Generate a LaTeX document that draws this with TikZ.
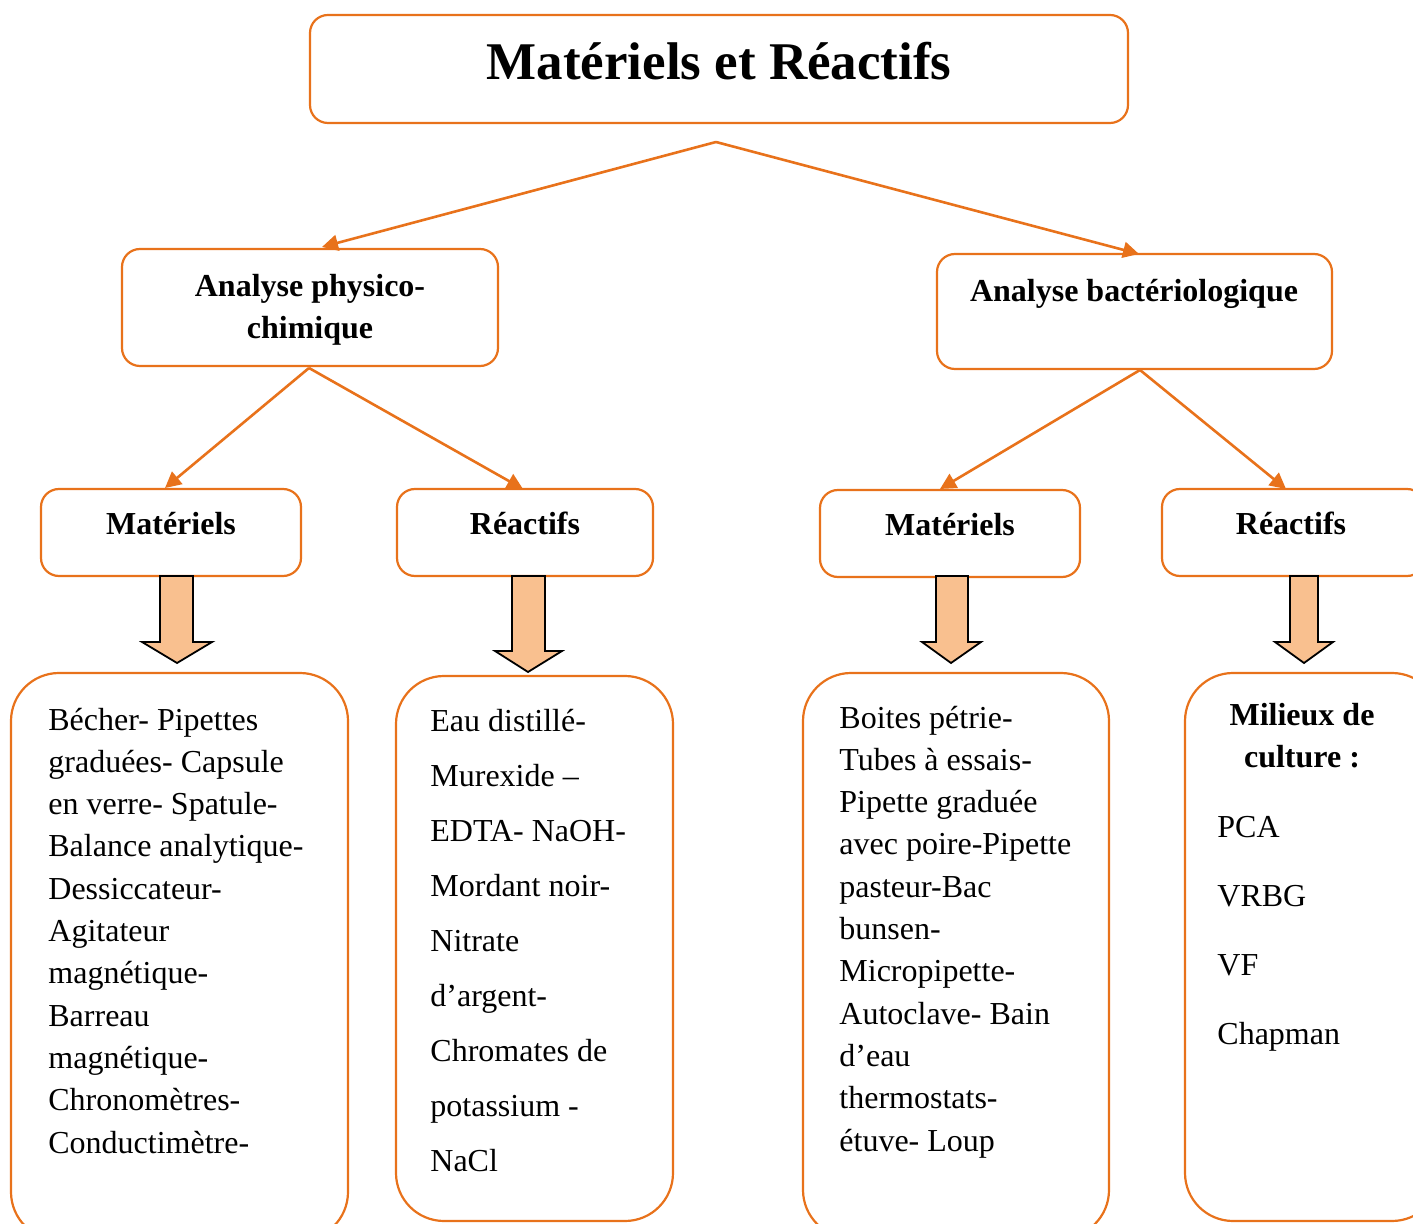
\documentclass[tikz,border=0pt]{standalone}
\usepackage{fontspec}
\setmainfont{Liberation Serif}
\usetikzlibrary{arrows.meta,shapes.arrows}
\definecolor{lineor}{RGB}{232,114,27}
\definecolor{blockfill}{RGB}{249,192,143}
\begin{document}
\begin{tikzpicture}[x=0.5pt,y=-0.5pt,
  box/.style={draw=lineor, line width=1.1pt, rounded corners=9pt},
  bigbox/.style={draw=lineor, line width=1.1pt, rounded corners=24pt},
  conn/.style={draw=lineor, line width=1.3pt, -{Triangle[length=8pt,width=8pt]}},
  txt/.style={anchor=base west, inner sep=0pt, font=\fontsize{16}{19}\selectfont},
  btxt/.style={anchor=base, inner sep=0pt, font=\fontsize{16}{19}\selectfont\bfseries},
  blockarrow/.style={draw=black, line width=0.9pt, fill=blockfill, line join=miter}
]
\useasboundingbox (0,0) rectangle (1413,1224);
\clip (0,0) rectangle (1413,1224);

% boxes
\draw[box] (310,15) rectangle (1128,123);
\coordinate (titleB) at (716,142);
\node[anchor=base, inner sep=0pt, font=\fontsize{26.5}{30}\selectfont\bfseries] (title) at (719,80) {Matériels et Réactifs};

\draw[box] (122,249) rectangle (498,366);
\coordinate (physT) at (322,247);
\coordinate (physB) at (309,368);
\node[btxt] (phys1) at (310,297) {Analyse physico-};
\node[btxt] (phys2) at (310,339) {chimique};

\draw[box] (937,254) rectangle (1332,369);
\coordinate (bactT) at (1139,254);
\coordinate (bactB) at (1140,370);
\node[btxt] (bact) at (1134,302) {Analyse bactériologique};

\draw[box] (41,489) rectangle (301,576);
\coordinate (mat1T) at (165,488);
\node[btxt] (mat1) at (171,535) {Matériels};

\draw[box] (397,489) rectangle (653,576);
\coordinate (rea1T) at (523,489);
\node[btxt] (rea1) at (525,535) {Réactifs};

\draw[box] (820,490) rectangle (1080,577);
\coordinate (mat2T) at (940,489);
\node[btxt] (mat2) at (950,536) {Matériels};

\draw[box] (1162,489) rectangle (1425,576);
\coordinate (rea2T) at (1286,489);
\node[btxt] (rea2) at (1291,535) {Réactifs};

% connectors
\draw[conn] (titleB) -- (physT);
\draw[conn] (titleB) -- (bactT);
\draw[conn] (physB) -- (mat1T);
\draw[conn] (physB) -- (rea1T);
\draw[conn] (bactB) -- (mat2T);
\draw[conn] (bactB) -- (rea2T);

% block arrows
\draw[blockarrow] (160,576) -- (193,576) -- (193,642) -- (212,642) -- (177,663) -- (142,642) -- (160,642) -- cycle;
\draw[blockarrow] (512,576) -- (545,576) -- (545,651) -- (562,651) -- (528,672) -- (495,651) -- (512,651) -- cycle;
\draw[blockarrow] (936,576) -- (968,576) -- (968,642) -- (981,642) -- (951,663) -- (922,642) -- (936,642) -- cycle;
\draw[blockarrow] (1290,576) -- (1318,576) -- (1318,642) -- (1333,642) -- (1304,663) -- (1275,642) -- (1290,642) -- cycle;

% big boxes
\draw[bigbox] (11,673) rectangle (348,1240);
\draw[bigbox] (396,676) rectangle (673,1221);
\draw[bigbox] (803,673) rectangle (1109,1238);
\draw[bigbox] (1185,673) rectangle (1440,1221);

\foreach \t [count=\i] in {Bécher- Pipettes, graduées- Capsule, en verre- Spatule-, Balance analytique-, Dessiccateur-, Agitateur, magnétique-, Barreau, magnétique-, Chronomètres-, Conductimètre-}
  \node[txt] (ba\i) at (48,{730+42.3*(\i-1)}) {\t};

\foreach \t [count=\i] in {Eau distillé-, Murexide --, EDTA- NaOH-, Mordant noir-, Nitrate, d’argent-, Chromates de, potassium -, NaCl}
  \node[txt] (bb\i) at (430,{731+55.1*(\i-1)}) {\t};

\foreach \t [count=\i] in {Boites pétrie-, Tubes à essais-, Pipette graduée, avec poire-Pipette, pasteur-Bac, bunsen-, Micropipette-, Autoclave- Bain, d’eau, thermostats-, étuve- Loup}
  \node[txt] (bc\i) at (839,{728+42.3*(\i-1)}) {\t};

\node[btxt] (bd1) at (1302,725) {Milieux de};
\node[btxt] (bd2) at (1302,767) {culture :};
\foreach \t [count=\i] in {PCA, VRBG, VF, Chapman}
  \node[txt] (be\i) at (1217,{837+69*(\i-1)}) {\t};
\end{tikzpicture}
\end{document}
